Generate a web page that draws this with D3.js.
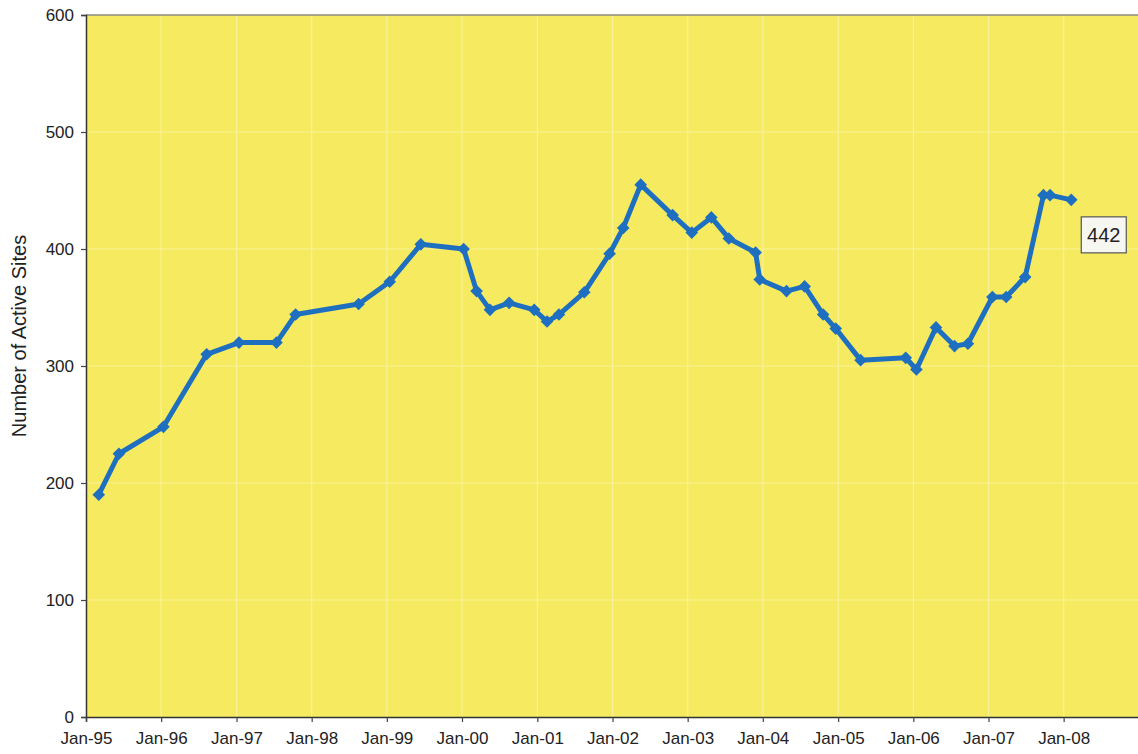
<!DOCTYPE html>
<html>
<head>
<meta charset="utf-8">
<script src="https://cdn.jsdelivr.net/npm/d3@7"></script>
<style>
  html, body { margin: 0; padding: 0; background: #ffffff; }
  svg { display: block; }
  text { font-family: "Liberation Sans", Arial, sans-serif; fill: #222; }
</style>
</head>
<body>
<svg id="chart" width="1138" height="754"></svg>
<script>
// Survey dates and counts of active sites
const dates = [
  "1995-03-04", "1995-06-10", "1996-01-12", "1996-08-09", "1997-01-13",
  "1997-07-14", "1997-10-15", "1998-08-17", "1999-01-15", "1999-06-15",
  "2000-01-09", "2000-03-12", "2000-05-16", "2000-08-17", "2000-12-17",
  "2001-02-17", "2001-04-16", "2001-08-17", "2001-12-18", "2002-02-22",
  "2002-05-18", "2002-10-20", "2003-01-21", "2003-04-26", "2003-07-20",
  "2003-11-27", "2003-12-17", "2004-04-25", "2004-07-22", "2004-10-20",
  "2004-12-20", "2005-04-20", "2005-11-25", "2006-01-16", "2006-04-21",
  "2006-07-20", "2006-09-23", "2007-01-20", "2007-03-28", "2007-06-28",
  "2007-09-25", "2007-10-27", "2008-02-07"
];
const activeSites = [
  190, 225, 248, 310, 320,
  320, 344, 353, 372, 404,
  400, 364, 348, 354, 348,
  338, 344, 363, 396, 418,
  455, 429, 414, 427, 409,
  397, 374, 364, 368, 344,
  332, 305, 307, 297, 333,
  317, 319, 359, 359, 376,
  446, 446, 442
];
const yTicks = [0, 100, 200, 300, 400, 500, 600];
const xTickYears = [1995, 1996, 1997, 1998, 1999, 2000, 2001, 2002, 2003, 2004, 2005, 2006, 2007, 2008];
const yTitle = "Number of Active Sites";

const parse = d3.timeParse("%Y-%m-%d");
const points = dates.map((d, i) => ({ date: parse(d), value: activeSites[i] }));

const svg = d3.select("#chart");
const plotLeft = 86, plotRight = 1139, plotTop = 15, plotBottom = 717;

const x = d3.scaleTime()
  .domain([new Date(1995, 0, 1), new Date(2009, 0, 1)])
  .range([plotLeft, plotRight]);
const y = d3.scaleLinear().domain([0, 600]).range([plotBottom, plotTop]);

// plot area
svg.append("rect")
  .attr("x", plotLeft).attr("y", plotTop)
  .attr("width", plotRight - plotLeft).attr("height", plotBottom - plotTop)
  .attr("fill", "#f6eb60");

// faint grid
const xTickDates = xTickYears.map(yr => new Date(yr, 0, 1));
svg.append("g").selectAll("line")
  .data(xTickDates.slice(1))
  .join("line")
  .attr("x1", d => x(d)).attr("x2", d => x(d))
  .attr("y1", plotTop).attr("y2", plotBottom)
  .attr("stroke", "#f9f197").attr("stroke-width", 1.2);
svg.append("g").selectAll("line")
  .data(yTicks.slice(1, -1))
  .join("line")
  .attr("x1", plotLeft).attr("x2", plotRight)
  .attr("y1", d => y(d)).attr("y2", d => y(d))
  .attr("stroke", "#f9f197").attr("stroke-width", 1.2);

// top border
svg.append("line")
  .attr("x1", plotLeft).attr("x2", plotRight)
  .attr("y1", plotTop).attr("y2", plotTop)
  .attr("stroke", "#8a8a80").attr("stroke-width", 1.5);

// axes
const yAxis = svg.append("g")
  .attr("transform", `translate(${plotLeft},0)`)
  .call(d3.axisLeft(y).tickValues(yTicks).tickSize(5).tickPadding(7).tickFormat(d3.format("d")));
const xAxis = svg.append("g")
  .attr("transform", `translate(0,${plotBottom})`)
  .call(d3.axisBottom(x).tickValues(xTickDates).tickSize(5).tickPadding(10).tickFormat(d3.timeFormat("%b-%y")));

[yAxis, xAxis].forEach(g => {
  g.select(".domain").attr("stroke", "#333").attr("stroke-width", 1.5);
  g.selectAll(".tick line").attr("stroke", "#444").attr("stroke-width", 1.2);
  g.selectAll(".tick text")
    .attr("fill", "#1e1e1e")
    .style("font-family", "'Liberation Sans', Arial, sans-serif")
    .style("font-size", "17px");
});

// axis title
svg.append("text")
  .attr("transform", `translate(26,${(plotTop + plotBottom) / 2 - 30}) rotate(-90)`)
  .attr("text-anchor", "middle")
  .style("font-size", "20px")
  .text(yTitle);

// series line
const line = d3.line().x(d => x(d.date)).y(d => y(d.value));
svg.append("path")
  .datum(points)
  .attr("d", line)
  .attr("fill", "none")
  .attr("stroke", "#1f6fc0")
  .attr("stroke-width", 5)
  .attr("stroke-linejoin", "round");

// diamond markers (squares turned 45 degrees)
const marker = d3.symbol().type(d3.symbolSquare).size(80);
svg.append("g").selectAll("path")
  .data(points)
  .join("path")
  .attr("transform", d => `translate(${x(d.date)},${y(d.value)}) rotate(45)`)
  .attr("d", marker)
  .attr("fill", "#1f6fc0");

// label for latest value
const last = points[points.length - 1];
const lx = x(last.date) + 10, ly = y(last.value) + 17;
svg.append("rect")
  .attr("x", lx).attr("y", ly)
  .attr("width", 45).attr("height", 36)
  .attr("fill", "#f7f7f2")
  .attr("stroke", "#555").attr("stroke-width", 1.2);
svg.append("text")
  .attr("x", lx + 22.5).attr("y", ly + 25)
  .attr("text-anchor", "middle")
  .style("font-size", "20px")
  .text(d3.format("d")(last.value));
</script>
</body>
</html>
